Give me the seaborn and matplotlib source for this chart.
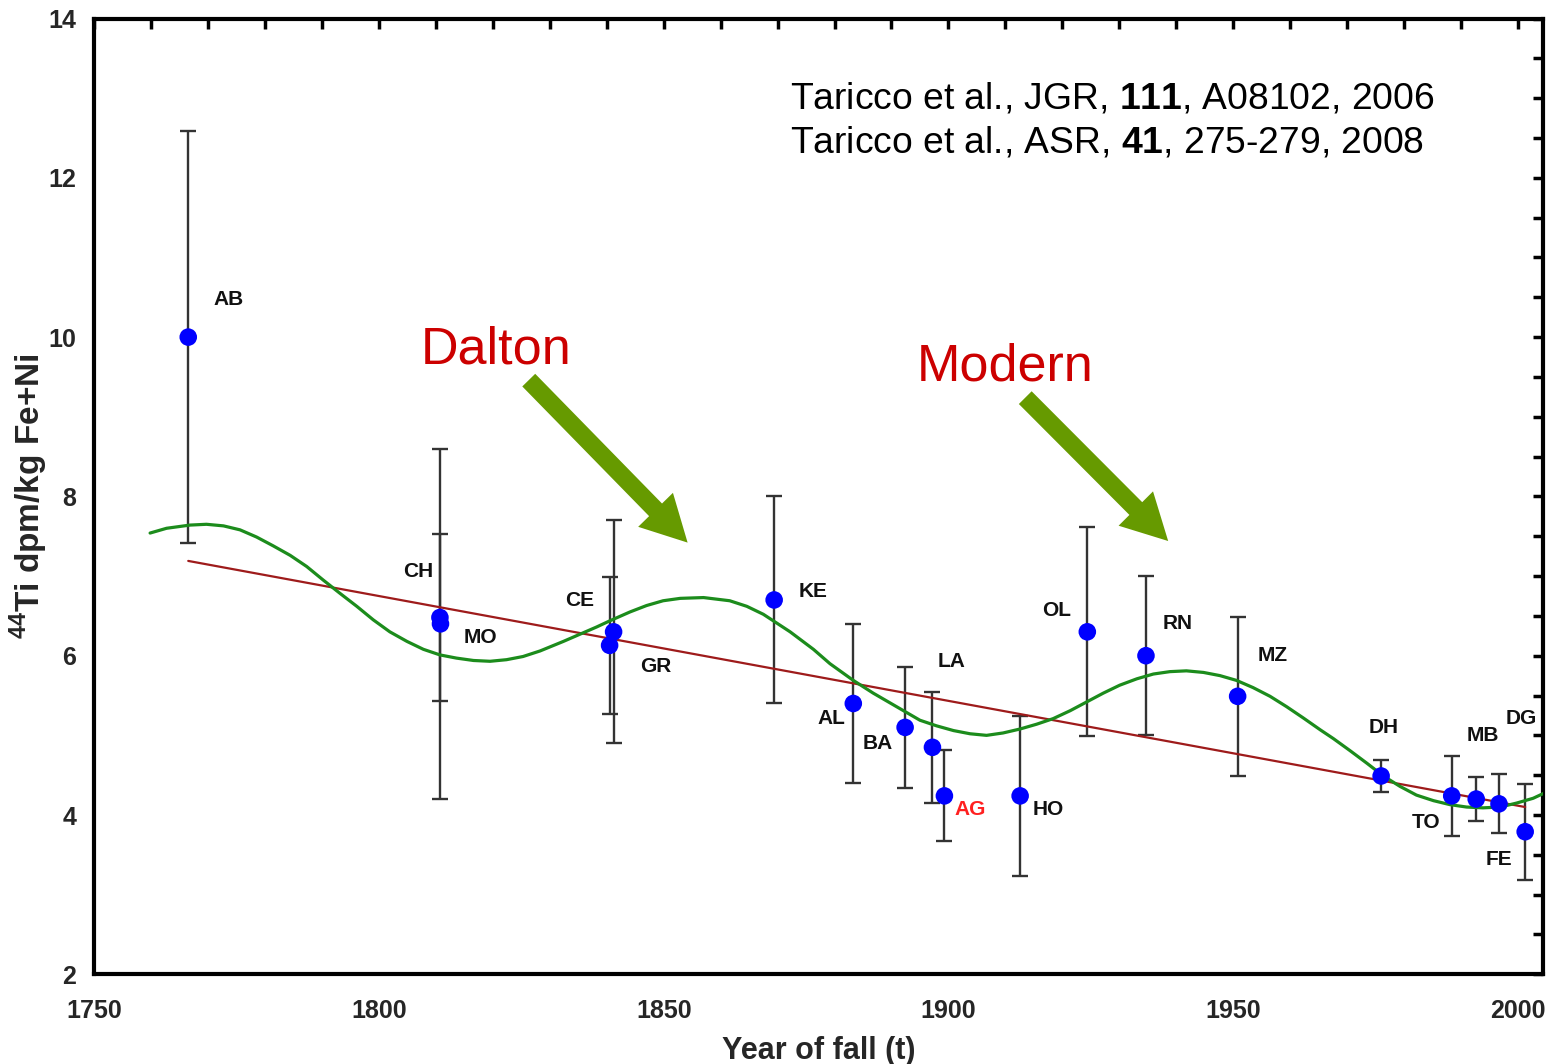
import numpy as np
import pandas as pd
import matplotlib
matplotlib.use("Agg")
import matplotlib.pyplot as plt
from matplotlib.ticker import MultipleLocator
import seaborn as sns

# ---------------- data ----------------
names = ["AB", "CH", "MO", "CE", "GR", "KE", "AL", "BA", "LA", "AG",
         "HO", "OL", "RN", "MZ", "DH", "TO", "MB", "DG", "FE"]
years = [1766.5, 1810.7, 1810.8, 1841.2, 1840.5, 1869.4, 1883.3, 1892.4, 1897.2, 1899.3,
         1912.6, 1924.4, 1934.7, 1950.8, 1976.0, 1988.4, 1992.7, 1996.7, 2001.3]
ti44 = [10.0, 6.48, 6.40, 6.30, 6.13, 6.70, 5.40, 5.10, 4.85, 4.24,
        4.24, 6.30, 6.00, 5.49, 4.49, 4.24, 4.20, 4.14, 3.79]
err = [2.59, 1.05, 2.20, 1.40, 0.86, 1.30, 1.00, 0.76, 0.70, 0.57,
       1.00, 1.31, 1.00, 1.00, 0.20, 0.50, 0.28, 0.37, 0.60]

trend_years = [1766.5, 2001.3]
trend_values = [7.19, 4.10]

fit_years = [1759.8, 1762.7, 1766.8, 1769.7, 1772.7, 1775.6, 1778.5, 1781.4, 1784.4,
             1787.3, 1790.2, 1793.2, 1796.1, 1799.0, 1801.9, 1804.9, 1807.8, 1810.7,
             1813.6, 1816.6, 1819.5, 1822.4, 1825.3, 1828.3, 1832.4, 1835.3, 1838.2,
             1840.6, 1844.1, 1847.0, 1849.9, 1852.9, 1857.0, 1861.6, 1864.6, 1867.5,
             1872.2, 1876.3, 1879.2, 1883.3, 1886.8, 1890.9, 1895.0, 1897.9, 1900.9,
             1903.8, 1906.7, 1909.6, 1912.6, 1915.5, 1918.4, 1921.4, 1924.3, 1927.2,
             1930.1, 1933.1, 1936.0, 1938.9, 1941.8, 1944.8, 1947.7, 1950.6, 1953.5,
             1956.5, 1959.4, 1962.3, 1965.3, 1967.6, 1970.5, 1973.5, 1976.4, 1979.3,
             1982.2, 1985.2, 1988.1, 1991.0, 1993.9, 1996.9, 1999.8, 2002.7, 2004.5]
fit_values = [7.54, 7.60, 7.64, 7.65, 7.63, 7.58, 7.49, 7.38, 7.26,
              7.12, 6.95, 6.78, 6.62, 6.45, 6.30, 6.18, 6.08, 6.01,
              5.97, 5.94, 5.93, 5.95, 5.99, 6.06, 6.18, 6.27, 6.36,
              6.44, 6.55, 6.63, 6.69, 6.72, 6.73, 6.69, 6.62, 6.52,
              6.30, 6.08, 5.90, 5.69, 5.53, 5.36, 5.19, 5.12, 5.06,
              5.02, 5.00, 5.03, 5.08, 5.14, 5.21, 5.31, 5.42, 5.53,
              5.63, 5.71, 5.77, 5.80, 5.81, 5.79, 5.75, 5.69, 5.60,
              5.49, 5.36, 5.22, 5.07, 4.96, 4.81, 4.65, 4.49, 4.36,
              4.25, 4.18, 4.13, 4.10, 4.09, 4.10, 4.15, 4.21, 4.27]

x_ticks = [1750, 1800, 1850, 1900, 1950, 2000]
y_ticks = [2, 4, 6, 8, 10, 12, 14]

periods = ["Dalton", "Modern"]
period_text_xy = [(1807.3, 9.67), (1894.5, 9.46)]
arrow_tails = [(1826.3, 9.46), (1913.5, 9.24)]
arrow_tips = [(1854.2, 7.42), (1938.6, 7.44)]

# label offsets in pixels (style/positioning)
label_offsets = [(40, 38), (-22, 46), (40, -14), (-34, 31), (46, -21), (39, 8),
                 (-22, -15), (-27, -16), (19, 86), (26, -14), (28, -14), (-31, 21),
                 (32, 32), (35, 41), (3, 48), (-26, -27), (7, 64), (22, 85), (-26, -28)]
label_colors = ["#111111"] * len(names)
label_colors[names.index("AG")] = "#ff2020"

df = pd.DataFrame({"name": names, "year": years, "ti": ti44, "err": err})
fit_df = pd.DataFrame({"year": fit_years, "ti": fit_values})
trend_df = pd.DataFrame({"year": trend_years, "ti": trend_values})

# ---------------- style ----------------
sns.set_theme(style="white")
plt.rcParams["font.family"] = ["Liberation Sans", "DejaVu Sans"]
plt.rcParams["mathtext.fontset"] = "custom"
plt.rcParams["mathtext.rm"] = "Liberation Sans"
plt.rcParams["mathtext.bf"] = "Liberation Sans:bold"

fig = plt.figure(figsize=(15.51, 10.64), dpi=100)
ax = fig.add_axes([0.0608, 0.0843, 0.9343, 0.8983])

# error bars
ax.errorbar(df["year"], df["ti"], yerr=df["err"], fmt="none", ecolor="#333333",
            elinewidth=1.7, capsize=5.5, capthick=1.7, zorder=2)

# trend line and fit curve
sns.lineplot(data=trend_df, x="year", y="ti", ax=ax, color="#9e1b1b", linewidth=1.6, zorder=3)
sns.lineplot(data=fit_df, x="year", y="ti", ax=ax, color="#1c8c1c", linewidth=2.3, zorder=3)

# points
sns.scatterplot(data=df, x="year", y="ti", ax=ax, color="#0000ff", s=160,
                edgecolor="none", zorder=4)

# point labels
for nm, xv, yv, off, col in zip(names, years, ti44, label_offsets, label_colors):
    ax.annotate(nm, (xv, yv), xytext=off, textcoords="offset pixels",
                ha="center", va="center", fontsize=15, fontweight="bold", color=col)

# arrows and period names
for (tx, ty), (hx, hy), lab, (px, py) in zip(arrow_tails, arrow_tips, periods, period_text_xy):
    ax.annotate("", xy=(hx, hy), xytext=(tx, ty),
                arrowprops=dict(arrowstyle="simple,head_width=3.5,head_length=3.3,tail_width=1.3",
                                mutation_scale=10, color="#669a00", shrinkA=0, shrinkB=0,
                                linewidth=0))
    ax.text(px, py, lab, fontsize=37.5, color="#cc0000", ha="left", va="baseline")

# citation
ax.text(0.480, 0.9063, r"Taricco et al., JGR, $\mathbf{111}$, A08102, 2006",
        transform=ax.transAxes, fontsize=26.8, ha="left", va="baseline", color="black")
ax.text(0.480, 0.8603, r"Taricco et al., ASR, $\mathbf{41}$, 275-279, 2008",
        transform=ax.transAxes, fontsize=26.8, ha="left", va="baseline", color="black")

# axes
ax.set_xlim(1750, 2004.5)
ax.set_ylim(2, 14)
ax.set_xticks(x_ticks)
ax.set_yticks(y_ticks)
ax.xaxis.set_minor_locator(MultipleLocator(10))
ax.yaxis.set_minor_locator(MultipleLocator(0.5))
ax.tick_params(which="both", direction="in", length=7, width=2.5, top=True, right=True,
               color="black")
ax.tick_params(axis="x", which="major", pad=18, labelsize=18)
ax.tick_params(axis="y", which="major", pad=13, labelsize=18)
for lab in ax.get_xticklabels() + ax.get_yticklabels():
    lab.set_fontweight("bold")
for sp in ax.spines.values():
    sp.set_visible(True)
    sp.set_linewidth(3)
    sp.set_color("black")

ax.set_xlabel("Year of fall (t)", fontsize=22, fontweight="bold", labelpad=9)
ax.set_ylabel(r"$^{\mathbf{44}}$Ti dpm/kg Fe+Ni", fontsize=24, fontweight="bold", labelpad=-1)

fig.savefig("out.png", dpi=100, facecolor="white")
